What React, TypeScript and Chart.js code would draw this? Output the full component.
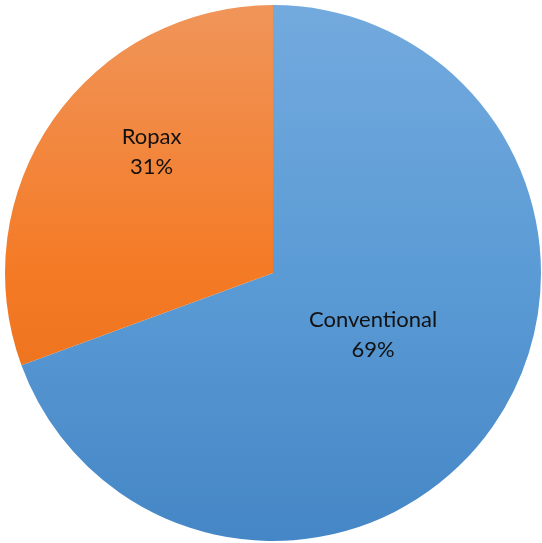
import React, { useEffect, useRef } from "react";
import { Chart, registerables } from "chart.js";

Chart.register(...registerables);

const categories = ["Conventional", "Ropax"];
const shares = [69.4, 30.6];
const percentLabels = ["69%", "31%"];
const gradientTop = ["#73aade", "#f0955a"];
const gradientMid = ["#5b9bd5", "#f47a25"];
const gradientBottom = ["#4586c6", "#e36913"];
// label placement: fraction of radius, and angle offset (deg) relative to slice mid-angle
const labelRadiusFrac = [0.44, 0.64];
const labelAngleOffset = [-3, 10];

function sliceVerticalExtent(cy: number, r: number, start: number, end: number) {
  let top = cy;
  let bottom = cy;
  const steps = 90;
  for (let k = 0; k <= steps; k++) {
    const a = start + ((end - start) * k) / steps;
    const yy = cy + Math.sin(a) * r;
    top = Math.min(top, yy);
    bottom = Math.max(bottom, yy);
  }
  return [top, bottom];
}

const labelPlugin = {
  id: "sliceLabels",
  afterDatasetsDraw(chart: any) {
    const { ctx } = chart;
    const meta = chart.getDatasetMeta(0);
    meta.data.forEach((arc: any, i: number) => {
      const { x, y, startAngle, endAngle, outerRadius } = arc.getProps(
        ["x", "y", "startAngle", "endAngle", "outerRadius"],
        true
      );
      const mid = (startAngle + endAngle) / 2 + (labelAngleOffset[i] * Math.PI) / 180;
      const r = outerRadius * labelRadiusFrac[i];
      const cx = x + Math.cos(mid) * r;
      const cy = y + Math.sin(mid) * r;
      ctx.save();
      ctx.fillStyle = "#111111";
      ctx.font = "22px Lato, 'Open Sans', sans-serif";
      ctx.textAlign = "center";
      ctx.textBaseline = "middle";
      ctx.fillText(categories[i], cx, cy - 15);
      ctx.fillText(percentLabels[i], cx, cy + 15);
      ctx.restore();
    });
  },
};

export default function App() {
  const ref = useRef<HTMLCanvasElement | null>(null);
  useEffect(() => {
    if (!ref.current) return;
    const chart = new Chart(ref.current, {
      type: "pie",
      data: {
        labels: categories,
        datasets: [
          {
            data: shares,
            borderWidth: 0,
            backgroundColor: (c: any) => {
              const ch = c.chart;
              const area = ch.chartArea;
              const i = c.dataIndex ?? 0;
              if (!area) return gradientMid[i];
              let top = area.top;
              let bottom = area.bottom;
              const el = c.element;
              if (el && typeof el.getProps === "function") {
                const p = el.getProps(["y", "startAngle", "endAngle", "outerRadius"], true);
                if (p.outerRadius > 0 && isFinite(p.startAngle) && isFinite(p.endAngle)) {
                  [top, bottom] = sliceVerticalExtent(p.y, p.outerRadius, p.startAngle, p.endAngle);
                }
              }
              if (!(bottom > top)) {
                top = area.top;
                bottom = area.bottom;
              }
              const g = ch.ctx.createLinearGradient(0, top, 0, bottom);
              g.addColorStop(0, gradientTop[i]);
              g.addColorStop(0.5, gradientMid[i]);
              g.addColorStop(1, gradientBottom[i]);
              return g;
            },
          },
        ],
      },
      options: {
        animation: false,
        responsive: false,
        layout: { padding: { left: 5, right: 1, top: 5, bottom: 2 } },
        plugins: {
          legend: { display: false },
          tooltip: { enabled: false },
        },
      },
      plugins: [labelPlugin],
    });
    return () => chart.destroy();
  }, []);
  return (
    <div style={{ position: "fixed", left: 0, top: 0, width: 542, height: 543, background: "#fff" }}>
      <canvas ref={ref} width={542} height={543} style={{ width: 542, height: 543 }} />
    </div>
  );
}
